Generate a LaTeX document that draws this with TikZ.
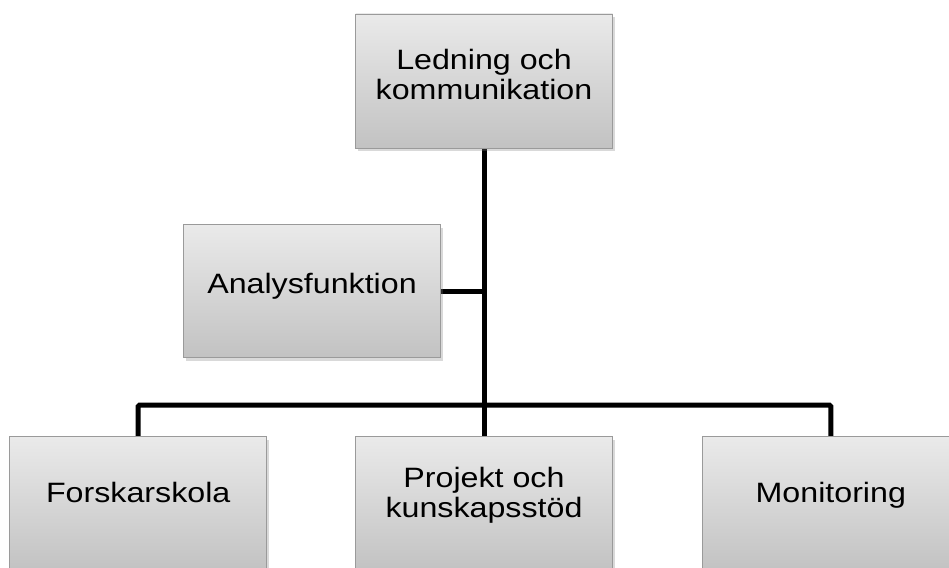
\documentclass[tikz,border=0pt]{standalone}
\usepackage{fontspec}
\setmainfont{Liberation Sans}[FakeStretch=1.15]
\usepackage{tikz}
\usetikzlibrary{positioning,shadows,backgrounds}
\definecolor{BoxTop}{HTML}{EAEAEA}
\definecolor{BoxBottom}{HTML}{C2C2C2}
\definecolor{BoxRim}{HTML}{9A9A9A}

\begin{document}
\begin{tikzpicture}[x=1pt, y=-1pt,
                    every node/.style={draw=BoxRim, line width=0.8pt, align=center,
                                       minimum width=257pt, minimum height=134pt,
                                       top color=BoxTop, bottom color=BoxBottom,
                                       font=\fontsize{28}{30}\selectfont, text depth=22pt,
                                       drop shadow={opacity=0.3, shadow xshift=2pt, shadow yshift=-3pt}},
                    conn/.style={draw=black, line width=5pt, rounded corners=1.5pt}]
  \useasboundingbox (0,0) rectangle (949,567);
  \clip (0,0) rectangle (949,567);
  \node[text depth=13pt] (ledning) at (484,81) {Ledning och\\kommunikation};
  \node[minimum height=133pt, text depth=16pt] (analys) at (312,291) {Analysfunktion};
  \node[below=288pt of ledning] (projekt) {Projekt och\\kunskapsstöd};
  \node[left=88pt of projekt] (forsk) {Forskarskola};
  \node[right=89pt of projekt] (monitor) {Monitoring};
  \coordinate (bus) at (484,405);
  \begin{scope}[on background layer]
    \draw[conn] (ledning.south) -- (projekt.north);
    \draw[conn] (analys.east) -- (analys.east -| ledning.south);
    \draw[conn] (forsk.north) |- (bus) -| (monitor.north);
  \end{scope}
\end{tikzpicture}
\end{document}
